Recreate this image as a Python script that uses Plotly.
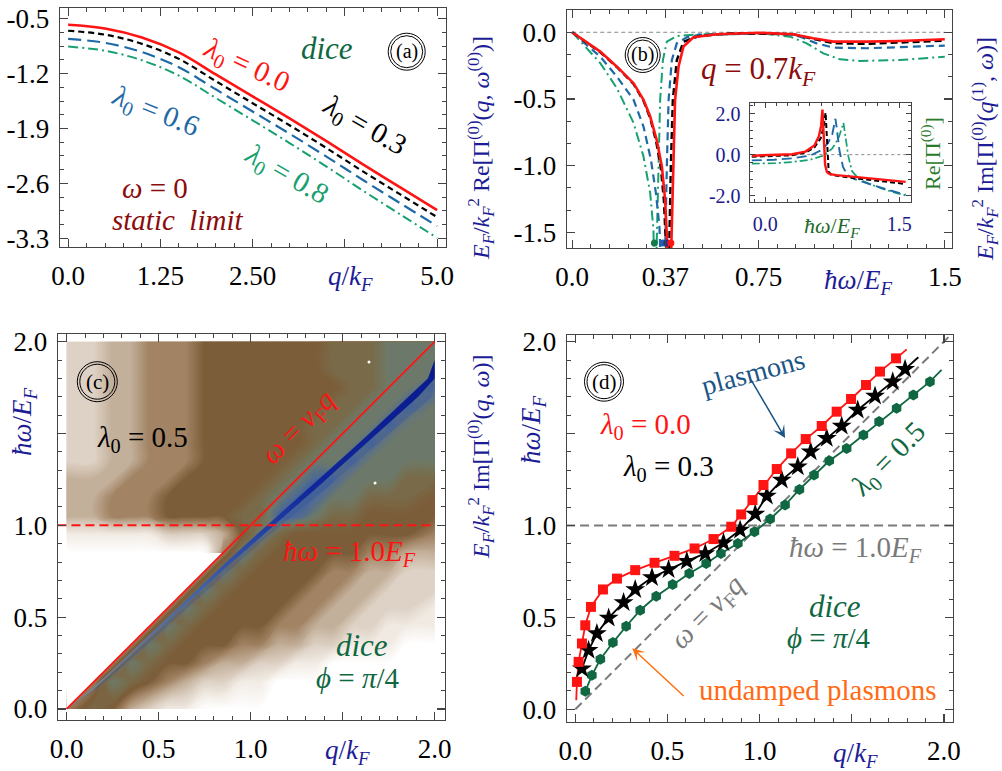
import plotly.graph_objects as go

W, H = 1002, 771
SERIF = "Liberation Serif"
AXBLUE = "#1c1c96"
RED = "#ff1414"
BLUE = "#1f6aa6"
GREEN = "#17a070"
DKGREEN = "#0f6842"
DKRED = "#8b0c0c"
GREY = "#7a7a7a"

# ---------------- (a) static limit, Re Pi(q, 0) ----------------
a_q = [0.0, 0.5, 1.0, 1.5, 2.0, 2.5, 3.0, 3.5, 4.0, 4.5, 5.0]
a_lam00 = [-0.577, -0.625, -0.74, -0.93, -1.21, -1.49, -1.77, -2.06, -2.36, -2.65, -2.94]
a_lam03 = [-0.653, -0.703, -0.82, -1.012, -1.295, -1.577, -1.858, -2.149, -2.45, -2.74, -3.03]
a_lam06 = [-0.757, -0.807, -0.925, -1.118, -1.40, -1.683, -1.966, -2.258, -2.56, -2.853, -3.145]
a_lam08 = [-0.855, -0.908, -1.03, -1.225, -1.51, -1.795, -2.085, -2.385, -2.695, -2.995, -3.295]

# ---------------- (b) Im Pi(q=0.7kF, omega) ----------------
b_red_w = [0.0, 0.113, 0.18, 0.247, 0.287, 0.314, 0.340, 0.361, 0.374, 0.383, 0.387, 0.397, 0.407,
           0.414, 0.428, 0.448, 0.488, 0.582, 0.756, 0.89, 0.97, 1.051, 1.185, 1.319, 1.5]
b_red_v = [0.0, -0.145, -0.258, -0.382, -0.507, -0.632, -0.807, -1.007, -1.256, -1.506, -1.75, -1.75, -1.0,
           -0.51, -0.258, -0.107, -0.037, -0.015, -0.004, -0.015, -0.045, -0.07, -0.07, -0.065, -0.052]
b_blk_w = [0.0, 0.113, 0.18, 0.247, 0.287, 0.314, 0.338, 0.357, 0.369, 0.377, 0.381, 0.389, 0.391,
           0.397, 0.405, 0.421, 0.448, 0.515, 0.649, 0.89, 0.97, 1.051, 1.185, 1.319, 1.5]
b_blk_v = [0.0, -0.15, -0.262, -0.388, -0.515, -0.645, -0.82, -1.02, -1.26, -1.5, -1.75, -1.75, -1.506,
           -1.007, -0.507, -0.21, -0.07, -0.027, -0.007, -0.015, -0.05, -0.082, -0.087, -0.078, -0.063]
b_blu_w = [0.0, 0.113, 0.18, 0.247, 0.287, 0.317, 0.337, 0.351, 0.357, 0.373, 0.381, 0.388, 0.401,
           0.421, 0.461, 0.515, 0.85, 0.917, 0.984, 1.051, 1.185, 1.319, 1.5]
b_blu_v = [0.0, -0.183, -0.333, -0.507, -0.707, -0.957, -1.206, -1.456, -1.75, -1.75, -1.0, -0.507, -0.21,
           -0.083, -0.038, -0.018, -0.008, -0.033, -0.083, -0.115, -0.12, -0.113, -0.1]
b_grn_w = [0.0, 0.113, 0.18, 0.247, 0.287, 0.314, 0.327, 0.330, 0.338, 0.347, 0.354, 0.365, 0.381,
           0.421, 0.515, 0.783, 0.877, 0.944, 1.011, 1.078, 1.158, 1.319, 1.5]
b_grn_v = [0.0, -0.232, -0.42, -0.68, -0.932, -1.206, -1.48, -1.75, -1.75, -1.0, -0.507, -0.21, -0.07,
           -0.028, -0.015, -0.013, -0.033, -0.083, -0.158, -0.203, -0.215, -0.208, -0.183]
b_pole_w = [0.331, 0.365, 0.381, 0.397]
b_pole_v = [-1.58, -1.58, -1.58, -1.58]
b_zero_w = [0.0, 1.5]
b_zero_v = [0.0, 0.0]

# ---------------- (b) inset, Re Pi ----------------
i_red_w = [-0.15, 0.1, 0.3, 0.45, 0.55, 0.6, 0.625, 0.64, 0.655, 0.67, 0.69, 0.72, 0.8, 1.0, 1.2, 1.4, 1.57]
i_red_v = [-0.05, -0.03, 0.02, 0.15, 0.45, 0.9, 1.4, 2.2, 1.0, -0.5, -0.85, -0.95, -1.0, -1.08, -1.17, -1.25, -1.33]
i_blk_w = [-0.15, 0.1, 0.3, 0.45, 0.55, 0.62, 0.655, 0.675, 0.685, 0.695, 0.71, 0.74, 0.8, 1.0, 1.2, 1.4, 1.57]
i_blk_v = [-0.1, -0.08, -0.03, 0.1, 0.35, 0.8, 1.4, 2.05, 1.2, -0.2, -0.85, -0.98, -1.03, -1.15, -1.25, -1.35, -1.43]
i_blu_w = [-0.15, 0.1, 0.3, 0.5, 0.62, 0.7, 0.75, 0.785, 0.8, 0.83, 0.87, 0.92, 1.0, 1.1, 1.25, 1.4, 1.57]
i_blu_v = [-0.28, -0.25, -0.18, -0.05, 0.2, 0.55, 1.0, 1.75, 1.3, 0.2, -0.6, -1.0, -1.2, -1.35, -1.55, -1.75, -1.95]
i_grn_w = [-0.15, 0.1, 0.3, 0.5, 0.65, 0.75, 0.82, 0.86, 0.875, 0.9, 0.93, 0.97, 1.05, 1.15, 1.3, 1.45, 1.57]
i_grn_v = [-0.44, -0.42, -0.36, -0.25, -0.05, 0.3, 0.8, 1.3, 1.55, 0.8, -0.1, -0.8, -1.2, -1.4, -1.65, -1.85, -1.99]
i_zero_w = [-0.2, 1.7]
i_zero_v = [0.0, 0.0]

# ---------------- (c) Im Pi(q, omega) density, levels 0..9 ----------------
c_q = [0.0, 0.15, 0.25, 0.35, 0.45, 0.55, 0.65, 0.75, 0.85, 0.95,
       1.05, 1.15, 1.25, 1.35, 1.45, 1.55, 1.65, 1.75, 1.85, 2.0]
c_w = [0.0, 0.15, 0.25, 0.35, 0.45, 0.55, 0.65, 0.75, 0.85, 0.95,
       1.05, 1.15, 1.25, 1.35, 1.45, 1.55, 1.65, 1.75, 1.85, 2.0]
c_rows_top_down = [
    "22334445555555666777",
    "22334445555555666777",
    "22334445555555566778",
    "22334445555555667787",
    "22334445555556677877",
    "22334445555556778777",
    "22334445555567787777",
    "33344455555678877766",
    "33444555556788776665",
    "33444555566887665555",
    "11111222357655555554",
    "00000000476555554433",
    "00000004765555443322",
    "00000047655554433222",
    "00000476555544332221",
    "00004765555443322111",
    "00047655544332211100",
    "00476554332211000000",
    "04765432211000000000",
    "46532110000000000000",
]
# damping band just below omega = vF q (offset d = q - omega)
band_w = [0.0, 0.1, 0.2, 0.3, 0.4, 0.5, 0.6, 0.7, 0.8, 0.9, 1.0, 1.1, 1.2, 1.3, 1.4, 1.5, 1.6, 1.7, 1.8, 1.9, 2.0]
band_core_lo = [0.0, 0.025, 0.035, 0.04, 0.045, 0.05, 0.055, 0.06, 0.068, 0.078, 0.09, 0.105, 0.115, 0.125, 0.135,
                0.145, 0.152, 0.158, 0.163, 0.167, 0.17]
band_core_hi = [0.0, 0.04, 0.052, 0.06, 0.068, 0.075, 0.082, 0.09, 0.1, 0.11, 0.125, 0.14, 0.155, 0.17, 0.18,
                0.19, 0.2, 0.21, 0.215, 0.22, 0.225]
band_fade_hi = [0.0, 0.06, 0.085, 0.1, 0.115, 0.125, 0.14, 0.155, 0.17, 0.18, 0.2, 0.23, 0.26, 0.28, 0.3,
                0.32, 0.34, 0.36, 0.37, 0.38, 0.39]
pauli_top = 0.85
map_edge = 2.0
vf_line_q = [0.0, 2.0]
hw1_line_q = [-0.05, 2.0]
hw1_line_w = [1.0, 1.0]
c_dots_q = [1.643, 1.676]
c_dots_w = [1.89, 1.23]

# ---------------- (d) plasmon branches ----------------
d_red_q = [0.009, 0.018, 0.036, 0.054, 0.085, 0.150, 0.226, 0.325, 0.430, 0.538, 0.647, 0.750, 0.846,
           0.900, 0.961, 1.021, 1.093, 1.171, 1.250, 1.337, 1.418, 1.496, 1.577, 1.653, 1.740]
d_red_w = [0.149, 0.258, 0.358, 0.457, 0.557, 0.652, 0.711, 0.757, 0.797, 0.835, 0.875, 0.926, 0.993,
           1.060, 1.138, 1.220, 1.307, 1.392, 1.470, 1.541, 1.619, 1.688, 1.764, 1.837, 1.909]
d_red_ends_q = [0.005, 1.798]
d_red_ends_w = [0.049, 1.958]
d_blk_q = [0.036, 0.072, 0.117, 0.181, 0.262, 0.325, 0.416, 0.506, 0.605, 0.705, 0.804, 0.894, 0.976,
           1.039, 1.120, 1.207, 1.277, 1.364, 1.445, 1.532, 1.626, 1.722, 1.789]
d_blk_w = [0.221, 0.321, 0.412, 0.497, 0.581, 0.652, 0.717, 0.761, 0.806, 0.848, 0.906, 0.975, 1.062,
           1.160, 1.247, 1.320, 1.401, 1.474, 1.541, 1.628, 1.704, 1.782, 1.850]
d_blk_end = [1.861, 1.915]
d_grn_q = [0.054, 0.090, 0.136, 0.204, 0.276, 0.352, 0.439, 0.528, 0.618, 0.710, 0.790, 0.882, 0.972,
           1.057, 1.138, 1.216, 1.295, 1.378, 1.472, 1.563, 1.648, 1.743, 1.834, 1.924]
d_grn_w = [0.098, 0.185, 0.272, 0.363, 0.452, 0.539, 0.615, 0.679, 0.739, 0.793, 0.848, 0.902, 0.966,
           1.035, 1.111, 1.196, 1.274, 1.352, 1.419, 1.492, 1.565, 1.637, 1.710, 1.782]
d_grn_end = [1.987, 1.846]
d_diag_q = [0.0, 2.04]
d_hw1_q = [-0.05, 2.05]
d_hw1_w = [1.0, 1.0]

TICK = 27


def dom(left, right, top, bottom):
    return [left / W, right / W], [1 - bottom / H, 1 - top / H]


def axis(domain, rng, anchor, tickvals, ticktext, mdt, m0, size=TICK, color="black", tl=8, mtl=4):
    return dict(domain=domain, range=rng, anchor=anchor, tickmode="array", tickvals=tickvals,
                ticktext=ticktext, ticks="inside", ticklen=tl, tickwidth=1.2, tickcolor="#444",
                minor=dict(tick0=m0, dtick=mdt, ticks="inside", ticklen=mtl, tickwidth=1, tickcolor="#444"),
                showline=True, linecolor="#444", linewidth=1.4, mirror="ticks", showgrid=False,
                automargin=False, zeroline=False, tickfont=dict(family=SERIF, size=size, color=color),
                ticklabelstandoff=4)


fig = go.Figure()


def line(x, y, ax, color, width=2.0, dash="solid", shape="linear"):
    fig.add_trace(go.Scatter(x=x, y=y, mode="lines", xaxis=ax[0], yaxis=ax[1], showlegend=False,
                             hoverinfo="skip", line=dict(color=color, width=width, dash=dash, shape=shape)))


# (a)
A = ("x", "y")
line(a_q, a_lam08, A, GREEN, 2.0, "10px,4px,2px,4px", "spline")
line(a_q, a_lam06, A, BLUE, 2.2, "13px,6px", "spline")
line(a_q, a_lam03, A, "black", 2.2, "6px,4px", "spline")
line(a_q, a_lam00, A, RED, 2.6, "solid", "spline")

# (b)
B = ("x2", "y2")
line(b_zero_w, b_zero_v, B, "#888888", 1.0, "4px,3px")
line(b_grn_w, b_grn_v, B, GREEN, 2.0, "10px,4px,2px,4px")
line(b_blu_w, b_blu_v, B, BLUE, 2.2, "8px,5px")
line(b_blk_w, b_blk_v, B, "black", 2.4, "7px,4px")
line(b_red_w, b_red_v, B, RED, 2.6)
fig.add_trace(go.Scatter(x=b_pole_w, y=b_pole_v, mode="markers", xaxis="x2", yaxis="y2", showlegend=False,
                         hoverinfo="skip",
                         marker=dict(size=7, color=["#137a4a", "#1f5fb0", "#24318a", RED])))

# inset
I = ("x3", "y3")
line(i_zero_w, i_zero_v, I, "#888888", 1.0, "3px,3px")
line(i_grn_w, i_grn_v, I, GREEN, 1.7, "8px,3px,2px,3px")
line(i_blu_w, i_blu_v, I, BLUE, 1.9, "10px,5px")
line(i_blk_w, i_blk_v, I, "black", 2.0, "5px,3px")
line(i_red_w, i_red_v, I, RED, 2.4)

# (c) density map drawn as finely-levelled filled contours
levels = ["#ffffff", "#f1ebe4", "#ddd1c4", "#c2ae98", "#a08262", "#7c5c38",
          "#7a6a48", "#6e7a68", "#4a6898", "#0c1e8c"]
cscale = [[k / 9, c] for k, c in enumerate(levels)]
z = [[int(ch) for ch in row] for row in reversed(c_rows_top_down)]
fig.add_trace(go.Contour(x=c_q, y=c_w, z=z, zmin=0, zmax=9, colorscale=cscale, showscale=False,
                         contours=dict(start=0.0, end=9.0, size=0.1, coloring="fill", showlines=False),
                         line=dict(width=0, smoothing=1.3), xaxis="x4", yaxis="y4", hoverinfo="skip"))


def strip(lo, hi):
    xs = [min(w + d, map_edge) for w, d in zip(band_w, lo)] + \
         [min(w + d, map_edge) for w, d in zip(band_w[::-1], hi[::-1])]
    ys = list(band_w) + list(band_w[::-1])
    return xs, ys


band_mid = [(a + b) / 2 for a, b in zip(band_core_hi, band_fade_hi)]
xs, ys = strip(band_mid, band_fade_hi)
fig.add_trace(go.Scatter(x=xs, y=ys, mode="lines", fill="toself", fillcolor="rgba(95,115,150,0.22)",
                         line=dict(width=0), xaxis="x4", yaxis="y4", showlegend=False, hoverinfo="skip"))
xs, ys = strip(band_core_hi, band_mid)
fig.add_trace(go.Scatter(x=xs, y=ys, mode="lines", fill="toself", fillcolor="rgba(60,90,160,0.42)",
                         line=dict(width=0), xaxis="x4", yaxis="y4", showlegend=False, hoverinfo="skip"))
xs, ys = strip(band_core_lo, band_core_hi)
fig.add_trace(go.Scatter(x=xs, y=ys, mode="lines", fill="toself",
                         fillgradient=dict(type="vertical", start=0, stop=2.0,
                                           colorscale=[[0, "#7d8a80"], [0.15, "#64789a"], [0.3, "#4866a4"],
                                                       [0.45, "#2a48a8"], [0.6, "#10269a"], [1, "#08188a"]]),
                         line=dict(width=0), xaxis="x4", yaxis="y4", showlegend=False, hoverinfo="skip"))
fig.add_trace(go.Scatter(x=[0, pauli_top, 0], y=[0, pauli_top, pauli_top], mode="lines", fill="toself",
                         fillcolor="white", line=dict(width=0), xaxis="x4", yaxis="y4",
                         showlegend=False, hoverinfo="skip"))
C = ("x4", "y4")
line(hw1_line_q, hw1_line_w, C, RED, 2.0, "9px,5px")
line(vf_line_q, vf_line_q, C, RED, 1.8)
fig.add_trace(go.Scatter(x=c_dots_q, y=c_dots_w, mode="markers", xaxis="x4", yaxis="y4", showlegend=False,
                         hoverinfo="skip", marker=dict(size=3, color="white")))

# (d)
D = ("x5", "y5")
line(d_hw1_q, d_hw1_w, D, GREY, 2.0, "9px,5px")
line(d_diag_q, d_diag_q, D, GREY, 2.0, "9px,5px")
line(d_grn_q + [d_grn_end[0]], d_grn_w + [d_grn_end[1]], D, DKGREEN, 1.8)
line(d_blk_q + [d_blk_end[0]], d_blk_w + [d_blk_end[1]], D, "black", 1.8)
line([d_red_ends_q[0]] + d_red_q + [d_red_ends_q[1]], [d_red_ends_w[0]] + d_red_w + [d_red_ends_w[1]],
     D, RED, 1.8)
for qq, ww, sym, sz, col in [(d_grn_q, d_grn_w, "hexagon", 11, DKGREEN),
                             (d_blk_q, d_blk_w, "star", 15, "black"),
                             (d_red_q, d_red_w, "square", 10, RED)]:
    fig.add_trace(go.Scatter(x=qq, y=ww, mode="markers", xaxis="x5", yaxis="y5", showlegend=False,
                             hoverinfo="skip", marker=dict(symbol=sym, size=sz, color=col, line=dict(width=0))))

# ---------------- axes ----------------
da = dom(60, 446, 8, 247)
db = dom(567, 952, 10, 248)
di = dom(750, 911, 103, 202)
dc = dom(58, 445, 334, 720)
dd = dom(567, 953, 335, 722)

lay = dict(width=W, height=H, margin=dict(l=0, r=0, t=0, b=0, autoexpand=False), paper_bgcolor="white",
           plot_bgcolor="white", showlegend=False, hovermode=False)
lay["xaxis"] = axis(da[0], [-0.11, 5.12], "y", [0, 1.25, 2.5, 3.75, 5.0], ["0.0", "1.25", "2.50", "", "5.0"], 0.25, 0)
lay["yaxis"] = axis(da[1], [-3.411, -0.363], "x", [-0.5, -1.2, -1.9, -2.6, -3.3],
                    ["-0.5", "-1.2", "-1.9", "-2.6", "-3.3"], 0.175, -0.5)
lay["xaxis2"] = axis(db[0], [-0.021, 1.529], "y2", [0, 0.375, 0.75, 1.125, 1.5], ["0.0", "0.37", "0.75", "", "1.5"],
                     0.075, 0)
lay["yaxis2"] = axis(db[1], [-1.618, 0.167], "x2", [0, -0.5, -1.0, -1.5], ["0.0", "-0.5", "-1.0", "-1.5"],
                     0.5 / 3, 0)
lay["xaxis3"] = axis(di[0], [-0.17, 1.63], "y3", [0, 1.5], ["0.0", "1.5"], 0.125, 0, size=20, color="#1a1a8c",
                     tl=5, mtl=3)
lay["yaxis3"] = axis(di[1], [-2.31, 2.52], "x3", [-2, 0, 2], ["-2.0", "0.0", "2.0"], 0.4, 0, size=20,
                     color="#1a1a8c", tl=5, mtl=3)
lay["xaxis4"] = axis(dc[0], [-0.047, 2.056], "y4", [0, 0.5, 1.0, 1.5, 2.0], ["0.0", "0.5", "1.0", "", "2.0"], 0.1, 0)
lay["yaxis4"] = axis(dc[1], [-0.06, 2.042], "x4", [0, 0.5, 1.0, 1.5, 2.0], ["0.0", "0.5", "1.0", "", "2.0"], 0.1, 0)
lay["xaxis5"] = axis(dd[0], [-0.045, 2.049], "y5", [0, 0.5, 1.0, 1.5, 2.0], ["0.0", "0.5", "1.0", "", "2.0"], 0.1, 0)
lay["yaxis5"] = axis(dd[1], [-0.069, 2.036], "x5", [0, 0.5, 1.0, 1.5, 2.0], ["0.0", "0.5", "1.0", "", "2.0"], 0.1, 0)
fig.update_layout(**lay)

# ---------------- annotations ----------------
anns = []


def ann(text, x, y, size=29, color="black", angle=0):
    anns.append(dict(text=text, x=x / W, y=1 - y / H, xref="paper", yref="paper", showarrow=False,
                     xanchor="center", yanchor="middle", textangle=angle,
                     font=dict(family=SERIF, size=size, color=color)))


QK = "<i>q</i>/<i>k</i><sub><i>F</i></sub>"
HWE = "<i>ħω</i>/<i>E</i><sub><i>F</i></sub>"
EFK = "<i>E</i><sub><i>F</i></sub>/<i>k</i><sub><i>F</i></sub><sup>2</sup>"
EQ = " = "

# (a)
ann("(a)", 406.7, 51.7, 20)
ann("<i>dice</i>", 326.7, 48.3, 31, DKGREEN)
ann("<i>λ</i><sub>0</sub>" + EQ + "0.0", 246, 66, 29, RED, 25)
ann("<i>λ</i><sub>0</sub>" + EQ + "0.3", 364, 126, 29, "black", 30)
ann("<i>λ</i><sub>0</sub>" + EQ + "0.6", 155, 112, 29, BLUE, 22)
ann("<i>λ</i><sub>0</sub>" + EQ + "0.8", 286, 175, 29, GREEN, 30)
ann("<i>ω</i>" + EQ + "0", 155, 188, 29, DKRED)
ann("<i>static  limit</i>", 177, 220, 29, DKRED)
ann(QK, 350, 278, 27, AXBLUE)
ann(EFK + " Re[Π<sup>(0)</sup>(<i>q</i>, <i>ω</i><sup>(0)</sup>)]", 481, 148, 24, AXBLUE, -90)

# (b)
ann("(b)", 642.7, 55, 20)
ann("<i>q</i>" + EQ + "0.7<i>k</i><sub><i>F</i></sub>", 758, 71, 31, DKRED)
ann(HWE, 858, 282, 27, AXBLUE)
ann(EFK + " Im[Π<sup>(0)</sup>(<i>q</i><sup>(1)</sup>, <i>ω</i>)]", 985, 149, 24, AXBLUE, -90)
ann("Re[Π<sup>(0)</sup>]", 931, 154, 22, "#2a7a2a", -90)
ann(HWE, 832, 227, 22, "#1f6a2a")

# (c)
ann("(c)", 97.3, 381.7, 21)
ann("<i>λ</i><sub>0</sub>" + EQ + "0.5", 142, 439, 29, "black")
ann("<i>ω</i>" + EQ + "<i>v</i><sub>F</sub><i>q</i>", 299, 428, 29, RED, -45)
ann("<i>ħω</i>" + EQ + "1.0<i>E</i><sub><i>F</i></sub>", 349, 553, 29, RED)
ann("<i>dice</i>", 362, 645, 31, DKGREEN)
ann("<i>ϕ</i>" + EQ + "<i>π</i>/4", 357, 678, 29, DKGREEN)
ann(HWE, 24, 422, 27, AXBLUE, -90)
ann(EFK + " Im[Π<sup>(0)</sup>(<i>q</i>, <i>ω</i>)]", 481, 457, 24, AXBLUE, -90)
ann(QK, 347, 752, 27, AXBLUE)

# (d)
ann("(d)", 604, 381.7, 21)
ann("plasmons", 753, 372, 28, "#1a5585", -15)
ann("<i>λ</i><sub>0</sub>" + EQ + "0.0", 645, 426, 29, RED)
ann("<i>λ</i><sub>0</sub>" + EQ + "0.3", 668, 468, 29, "black")
ann("<i>λ</i><sub>0</sub>" + EQ + "0.5", 889, 460, 29, DKGREEN, -45)
ann("<i>ħω</i>" + EQ + "1.0<i>E</i><sub><i>F</i></sub>", 855, 549, 29, GREY)
ann("<i>ω</i>" + EQ + "<i>v</i><sub>F</sub><i>q</i>", 708, 613, 29, GREY, -45)
ann("<i>dice</i>", 835, 606, 31, DKGREEN)
ann("<i>ϕ</i>" + EQ + "<i>π</i>/4", 828, 638, 29, DKGREEN)
ann("undamped plasmons", 818, 690, 29, "#ff6a13")
ann(HWE, 533, 430, 27, AXBLUE, -90)
ann(QK, 855, 755, 27, AXBLUE)

# arrows in (d)
anns.append(dict(x=1.138, y=1.476, ax=0.949, ay=1.80, xref="x5", yref="y5", axref="x5", ayref="y5",
                 text="", showarrow=True, arrowhead=3, arrowsize=1.4, arrowwidth=1.5, arrowcolor="#1a5585"))
anns.append(dict(x=0.309, y=0.332, ax=0.596, ay=0.065, xref="x5", yref="y5", axref="x5", ayref="y5",
                 text="", showarrow=True, arrowhead=3, arrowsize=1.4, arrowwidth=1.5, arrowcolor="#ff7010"))
fig.update_layout(annotations=anns)

# circled panel labels
shapes = []
for cx, cy, r in [(406.7, 51.7, 18.5), (642.7, 55, 17.5), (97.3, 381.7, 20), (604, 381.7, 19.5)]:
    for rr in (r, r - 2.5):
        shapes.append(dict(type="circle", xref="paper", yref="paper", x0=(cx - rr) / W, x1=(cx + rr) / W,
                           y0=1 - (cy + rr) / H, y1=1 - (cy - rr) / H, line=dict(color="black", width=1)))
fig.update_layout(shapes=shapes)

fig.write_html("out.html", config={"displayModeBar": False, "staticPlot": True},
               post_script="document.body.style.margin='0';document.body.style.padding='0';"
                           "document.documentElement.style.overflow='hidden';")
